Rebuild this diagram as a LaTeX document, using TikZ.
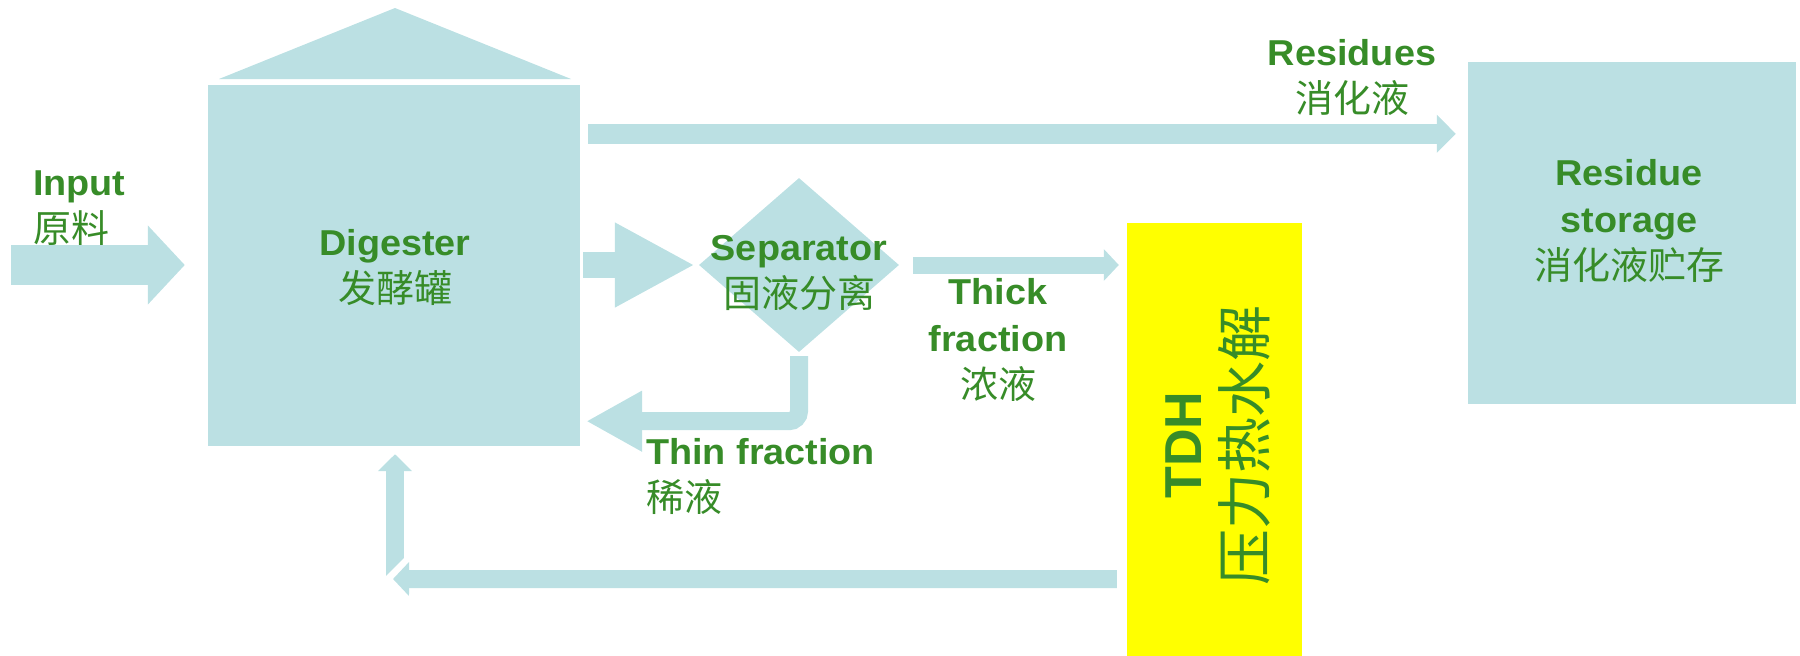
\documentclass[tikz,border=0pt]{standalone}
\usepackage{fontspec}
\setmainfont{Liberation Sans}[FakeStretch=1.05]
\newfontfamily\plainsans{Liberation Sans}
\newfontfamily\cjk{Noto Sans CJK SC}
\usetikzlibrary{shapes.geometric}
\usetikzlibrary{arrows.meta}
\definecolor{pipeblue}{RGB}{187,224,227}
\definecolor{labelgreen}{RGB}{55,140,40}
\definecolor{tdhyellow}{RGB}{255,255,0}
\tikzset{
  tank/.style={rectangle, fill=pipeblue, draw=none, inner sep=0pt},
  flow/.style={draw=pipeblue, line cap=butt},
  txt/.style={text=labelgreen, font=\fontsize{36}{47}\selectfont\bfseries, align=center, inner sep=0pt},
}
\newcommand{\zh}[1]{{\cjk\mdseries\fontsize{38}{47}\selectfont #1}}

\begin{document}
\begin{tikzpicture}[x=1pt, y=-1pt]
  \useasboundingbox (0,0) rectangle (1800,656);
  % tanks
  \fill[pipeblue] (219,79) -- (395,8) -- (571,79) -- cycle;
  \node[tank, minimum width=372pt, minimum height=361pt] (digester) at (394,265.5) {};
  \node[tank, shape=diamond, minimum width=200pt, minimum height=174pt] (separator) at (799,265) {};
  \node[tank, minimum width=328pt, minimum height=342pt] (storage) at (1632,233) {};
  \node[tank, fill=tdhyellow, minimum width=175pt, minimum height=436pt] (tdh) at (1214.5,441) {};
  % flows
  \coordinate (feed) at (11,265);
  \draw[flow, line width=40pt, -{Triangle[length=37pt,width=77pt]}, shorten >=23pt] (feed) -- (feed -| digester.west);
  \draw[flow, line width=26pt, -{Triangle[length=80pt,width=79pt]}, shorten <=3pt, shorten >=4pt] (digester.east |- separator.west) -- (separator.west);
  \draw[flow, line width=20pt, -{Triangle[length=19pt,width=37pt]}, shorten <=8pt, shorten >=12pt] ([yshift=-49pt]digester.north east) -- ([yshift=-72pt]storage.north west);
  \draw[flow, line width=17pt, -{Triangle[length=15pt,width=31pt]}, shorten <=14pt, shorten >=8pt] (separator.east) -- (separator.east -| tdh.west);
  \draw[flow, line width=18pt, rounded corners=10pt, -{Triangle[length=56pt,width=57pt]}, shorten <=4pt, shorten >=6pt] (separator.south) |- ([yshift=25pt]digester.south east);
  % return to digester
  \coordinate (rise) at (395,576);
  \coordinate (back) at (393,579);
  \draw[flow, line width=18pt, -{Triangle[length=17pt,width=33pt]}, shorten >=8pt] (rise) -- (rise |- digester.south);
  \fill[white] (384,578) -- (406,556) -- (406,580) -- cycle;
  \draw[flow, line width=18pt, -{Triangle[length=16pt,width=33pt]}, shorten <=10pt] ([yshift=80pt]tdh.south west) -- (back);
  % labels
  \node[txt, anchor=west, align=left] (inputtxt) at (33,208) {Input\\\zh{原料}};
  \node[txt] (digestertxt) at (395,268) {Digester\\\zh{发酵罐}};
  \node[txt] (separatortxt) at (799,273) {Separator\\\zh{固液分离}};
  \node[txt] (residuestxt) at (1352,77) {Residues\\\zh{消化液}};
  \node[txt] (storagetxt) at (1629,221) {Residue\\storage\\\zh{消化液贮存}};
  \node[txt] (thicktxt) at (998,340) {Thick\\fraction\\\zh{浓液}};
  \node[txt, anchor=west, align=left] (thintxt) at (646,476) {Thin fraction\\\zh{稀液}};
  \node[txt, rotate=90, font=\plainsans\bfseries\fontsize{52}{64}\selectfont] (tdhtxt) at (1218,445) {TDH\\{\cjk\mdseries\fontsize{56}{64}\selectfont 压力热水解}};
\end{tikzpicture}
\end{document}
